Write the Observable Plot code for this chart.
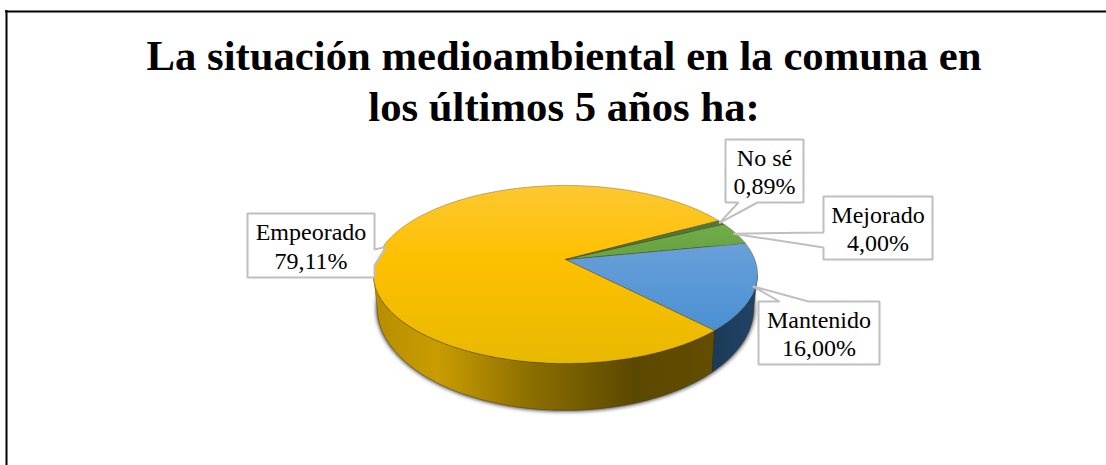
<!DOCTYPE html>
<html lang="es">
<head>
<meta charset="utf-8">
<script src="https://cdn.jsdelivr.net/npm/d3@7"></script>
<script src="https://cdn.jsdelivr.net/npm/@observablehq/plot@0.6"></script>
<style>html,body{margin:0;padding:0;background:#fff;overflow:hidden}svg{display:block}</style>
</head>
<body>
<div id="chart"></div>
<script>
// Data
const titleLines = ["La situación medioambiental en la comuna en", "los últimos 5 años ha:"];
const categories = ["Mantenido", "Empeorado", "No sé", "Mejorado"];
const shares = [16.00, 79.11, 0.89, 4.00];

// View of the tilted pie (perspective disc)
const view = {cx: 565, cy: 259, a: 189.3, b: 86.5, k: 0.168, startDeg: -11.4,
  wallFrom: 10, wallTo: 170, depth: 31.3, lowerX: 0.98, lowerY: 1.15};

// Callout boxes
const boxes = {
  "Mantenido": {x0: 758, x1: 879, y0: 301, y1: 364, side: "top", p: [779, 808]},
  "Empeorado": {x0: 247, x1: 374, y0: 213, y1: 277, side: "right", p: [249, 265]},
  "No sé":     {x0: 725, x1: 803, y0: 139, y1: 202, side: "bottom", p: [738, 757]},
  "Mejorado":  {x0: 823, x1: 932, y0: 196, y1: 259, side: "left", p: [232, 247]}
};

const rad = d => d * Math.PI / 180;
function rim(deg, lower = false, scale = 1) {
  const u = Math.cos(rad(deg)), v = Math.sin(rad(deg));
  const w = 1 - view.k * v;
  const X = view.a * u / w * scale, Y = view.b * v / w * scale;
  return lower
    ? {x: view.cx + X * view.lowerX, y: view.cy + view.depth + Y * view.lowerY}
    : {x: view.cx + X, y: view.cy + Y};
}
function arc(from, to, lower = false) {
  const n = Math.max(2, Math.ceil(Math.abs(to - from) * 2));
  return d3.range(n + 1).map(i => rim(from + (to - from) * i / n, lower));
}

const pie = d3.pie().sort(null).value(d => d)
  .startAngle(rad(view.startDeg)).endAngle(rad(view.startDeg + 360))(shares);
const deg = a => a * 180 / Math.PI;
const slices = categories.map((name, i) => ({
  name, value: shares[i], from: deg(pie[i].startAngle), to: deg(pie[i].endAngle)
}));

const topFill = {"Mantenido": "url(#gBlue)", "Empeorado": "url(#gGold)", "No sé": "#4f7a3a", "Mejorado": "url(#gGreen)"};
const wallFill = {"Mantenido": "url(#wBlue)", "Empeorado": "url(#wGold)"};

function wall(s) {
  const a = Math.max(s.from, view.wallFrom), b = Math.min(s.to, view.wallTo);
  if (b <= a) return null;
  return [...arc(a, b), ...arc(b, a, true)];
}
function wedge(s) {
  return [{x: view.cx, y: view.cy}, ...arc(s.from, s.to)];
}
function callout(s) {
  const b = boxes[s.name];
  const tip = rim((s.from + s.to) / 2, false, 0.985);
  const c = [{x: b.x0, y: b.y0}];
  if (b.side === "top") c.push({x: b.p[0], y: b.y0}, tip, {x: b.p[1], y: b.y0});
  c.push({x: b.x1, y: b.y0});
  if (b.side === "right") c.push({x: b.x1, y: b.p[0]}, tip, {x: b.x1, y: b.p[1]});
  c.push({x: b.x1, y: b.y1});
  if (b.side === "bottom") c.push({x: b.p[1], y: b.y1}, tip, {x: b.p[0], y: b.y1});
  c.push({x: b.x0, y: b.y1});
  if (b.side === "left") c.push({x: b.x0, y: b.p[1]}, tip, {x: b.x0, y: b.p[0]});
  return c;
}
const labelRows = slices.map(s => ({
  text: `${s.name}\n${s.value.toFixed(2).replace(".", ",")}%`,
  x: (boxes[s.name].x0 + boxes[s.name].x1) / 2,
  y: (boxes[s.name].y0 + boxes[s.name].y1) / 2
}));

function gradientDefs() {
  const root = d3.create("svg:g");
  const defs = root.append("defs");
  const grad = (id, x1, y1, x2, y2, stops) => {
    const g = defs.append("linearGradient").attr("id", id).attr("gradientUnits", "userSpaceOnUse")
      .attr("x1", x1).attr("y1", y1).attr("x2", x2).attr("y2", y2);
    stops.forEach(([o, c]) => g.append("stop").attr("offset", o).attr("stop-color", c));
  };
  const t = rim(-90).y, m = rim(90).y;
  grad("gGold", 0, t, 0, m, [[0, "#fdc831"], [0.42, "#fec000"], [1, "#e8b900"]]);
  grad("gBlue", 0, 240, 0, 335, [[0, "#6aa0d9"], [1, "#488fd2"]]);
  grad("gGreen", 0, 222, 0, 246, [[0, "#71ae49"], [1, "#6aa543"]]);
  const l = rim(170, true).x, r = rim(46.2, true).x;
  grad("wGold", l, 0, r, 0, [[0, "#b88e00"], [0.18, "#c99c00"], [0.47, "#8a6d00"], [0.77, "#5b4800"], [1, "#624d00"]]);
  grad("wBlue", r, 0, rim(10).x, 0, [[0, "#1c3a58"], [1, "#1f4468"]]);
  return root.node();
}

const marks = [
  gradientDefs,
  Plot.ruleY([11], {x1: 5, x2: 1106, stroke: "#000", strokeWidth: 2}),
  Plot.ruleX([6], {y1: 10, y2: 465, stroke: "#000", strokeWidth: 2}),
  Plot.text(titleLines, {
    x: 563.5, y: (d, i) => 56 + i * 51, text: d => d, fontFamily: "Liberation Serif",
    fontWeight: "bold", fontSize: 42.7, fill: "#000", textAnchor: "middle"
  }),
  // contact shadow
  Plot.line(arc(0, 360, true), {x: "x", y: "y", fill: "#222", stroke: "#222", strokeWidth: 1.5, curve: "linear-closed", imageFilter: "blur(2px)"})
];
for (const s of slices) {
  const w = wall(s);
  if (w) marks.push(Plot.line(w, {x: "x", y: "y", fill: wallFill[s.name], stroke: "#3a2f08", strokeOpacity: 0.45, strokeWidth: 0.8, curve: "linear-closed"}));
}
for (const s of slices) {
  marks.push(Plot.line(wedge(s), {x: "x", y: "y", fill: topFill[s.name], stroke: "#4a3f20", strokeOpacity: 0.45, strokeWidth: 0.8, curve: "linear-closed"}));
}
for (const s of slices) {
  marks.push(Plot.line(callout(s), {x: "x", y: "y", fill: "#fff", stroke: "#bfbfbf", strokeWidth: 2, curve: "linear-closed", strokeLinejoin: "miter"}));
}
marks.push(Plot.text(labelRows, {
  x: "x", y: "y", text: "text", fontFamily: "Liberation Serif", fontSize: 24, lineHeight: 1.17,
  fill: "#000", textAnchor: "middle"
}));

const chart = Plot.plot({
  width: 1106, height: 465, margin: 0,
  x: {domain: [0, 1106], range: [0, 1106], axis: null},
  y: {domain: [0, 465], range: [0, 465], axis: null},
  marks
});
document.getElementById("chart").append(chart);
</script>
</body>
</html>
